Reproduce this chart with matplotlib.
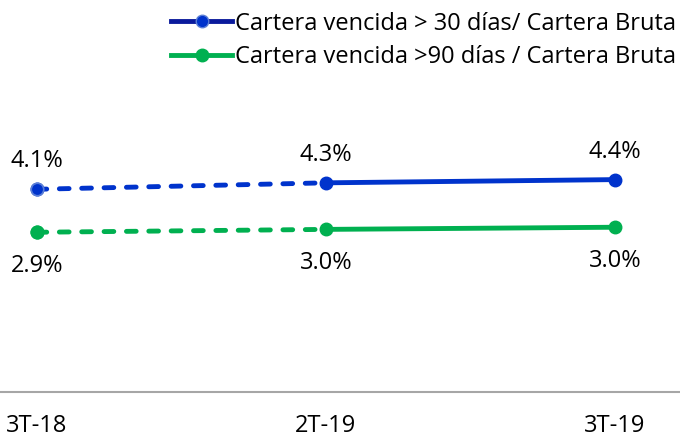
import matplotlib.pyplot as plt
from matplotlib.lines import Line2D

plt.rcParams['font.family'] = ['Open Sans', 'DejaVu Sans']

periods = ['3T-18', '2T-19', '3T-19']
mora_30 = [4.1, 4.28, 4.37]
mora_90 = [2.9, 2.98, 3.04]
label_30 = 'Cartera vencida > 30 días/ Cartera Bruta'
label_90 = 'Cartera vencida >90 días / Cartera Bruta'

blue = '#0033CC'
blue_dark = '#0A1A9C'
green = '#00B050'
fs = 17

fig = plt.figure(figsize=(6.8, 4.38), dpi=100)
ax = fig.add_axes([0, 46 / 438, 1, (392 - 70) / 438])
x = list(range(len(periods)))

def draw_series(vals, color, edge, dy):
    # first segment dashed, the rest solid
    ax.plot(x[:2], vals[:2], color=color, lw=3.5, ls=(0, (2.0, 2.6)),
            solid_capstyle='round', dash_capstyle='round')
    ax.plot(x[1:], vals[1:], color=color, lw=3.5)
    ax.plot(x, vals, 'o', color=color, ms=9, mec=color)
    ax.plot(x[:1], vals[:1], 'o', color=color, ms=9, mec=edge, mew=1.2)
    for xi, v in zip(x, vals):
        ax.annotate(f'{v:.1f}%', (xi, v), xytext=(0, dy), textcoords='offset points',
                    ha='center', va='center', fontsize=fs)

draw_series(mora_30, blue, '#5B7FD6', 20)
draw_series(mora_90, green, green, -24)

ax.set_xlim(-37 / 289, 2 + 65 / 289)
ax.set_ylim(-1.56, 7.43)
ax.set_xticks(x)
ax.set_xticklabels(periods, fontsize=fs)
ax.tick_params(axis='x', length=0, pad=16)
ax.set_yticks([])
for s in ['top', 'left', 'right']:
    ax.spines[s].set_visible(False)
ax.spines['bottom'].set_color('#A6A6A6')
ax.spines['bottom'].set_linewidth(1.5)

handles = [
    Line2D([], [], color=blue_dark, lw=3.5, marker='o', ms=9, mfc=blue, mec='#5B7FD6'),
    Line2D([], [], color=green, lw=3.5, marker='o', ms=9, mfc=green, mec=green),
]
fig.legend(handles, [label_30, label_90], loc='upper right', bbox_to_anchor=(1.025, 1.022),
           frameon=False, fontsize=fs, handlelength=2.6, handletextpad=0.1,
           labelspacing=0.4)

fig.savefig('out.png', dpi=100)
